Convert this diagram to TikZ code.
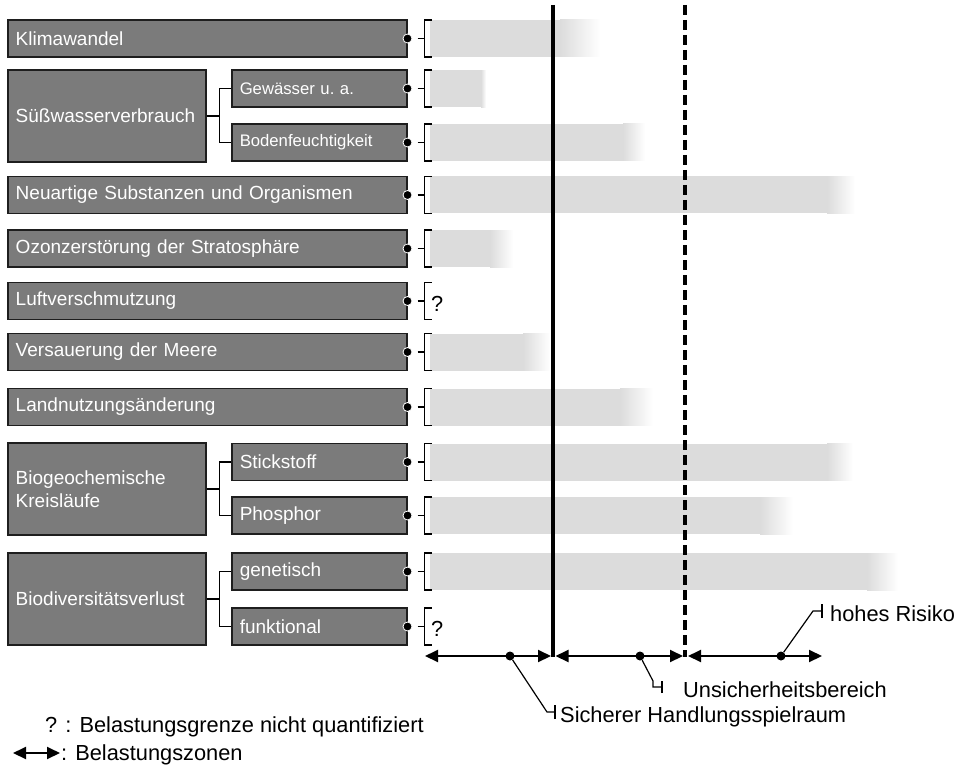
\documentclass[tikz,border=0pt]{standalone}
\usepackage{fontspec}
\setmainfont{Liberation Sans}
\usetikzlibrary{arrows.meta,calc}
\definecolor{boxgray}{RGB}{123,123,123}
\definecolor{boxline}{RGB}{30,30,30}
\definecolor{zonegray}{RGB}{220,220,220}
% grey zone bar: y, start of fade, end of fade
\newcommand{\zonebar}[3]{%
  \fill[zonegray] (430,#1-18.5) rectangle (#2,#1+18.5);
  \shade[left color=zonegray, right color=white] (#2,#1-18.5) rectangle (#3,#1+18.5);
}
% dot, tick and bracket behind a box
\newcommand{\zonebracket}[1]{%
  \draw[link] ($(#1.east)+(10,0)$) -- ++(7,0);
  \draw[link] ($(#1.east)+(24,-18.5)$) -- ++(-7,0) -- ++(0,37) -- ++(7,0);
  \filldraw[fill=black, draw=white, line width=0.8pt] (#1.east) circle (4.5);
}
\begin{document}
\begin{tikzpicture}[x=1pt, y=-1pt, >={Triangle[length=13pt,width=12pt]}]
\tikzstyle{box}=[draw=boxline, line width=1.5pt, fill=boxgray, text=white, anchor=west, inner xsep=8pt, inner ysep=0pt, minimum height=37pt, align=left, font=\fontsize{19}{23}\selectfont]
\tikzstyle{small}=[font=\fontsize{16.7}{20}\selectfont]
\tikzstyle{lbl}=[anchor=base west, inner sep=0pt, font=\fontsize{21.8}{26}\selectfont]
\tikzstyle{zdot}=[circle, fill=black, inner sep=0pt, minimum size=9pt]
\tikzstyle{zone}=[<->, line width=2pt]
\tikzstyle{link}=[line width=1.2pt]
\useasboundingbox (0,0) rectangle (965,767);

\zonebar{38.5}{560}{600}
\zonebar{89}{481}{486}
\zonebar{142.5}{623}{645}
\zonebar{195}{827}{855}
\zonebar{248.5}{490}{513}
\zonebar{352}{523}{550}
\zonebar{407}{620}{653}
\zonebar{462}{827}{853}
\zonebar{515.5}{760}{793}
\zonebar{571.5}{867}{898}

\node[box, text width=383pt] (klima) at (7,38.5) {Klimawandel};
\node[box, text width=182pt, minimum height=92pt] (suess) at (7,116) {\mbox{Süßwasserverbrauch}};
\node[box, small, text width=159pt] (gew) at (231,88.5) {Gewässer u.\ a.};
\node[box, small, text width=159pt] (boden) at (231,142.5) {Bodenfeuchtigkeit};
\node[box, text width=383pt] (neu) at (7,195) {Neuartige Substanzen und Organismen};
\node[box, text width=383pt] (ozon) at (7,248.5) {Ozonzerstörung der Stratosphäre};
\node[box, text width=383pt] (luft) at (7,301) {Luftverschmutzung};
\node[box, text width=383pt] (meer) at (7,352) {Versauerung der Meere};
\node[box, text width=383pt] (land) at (7,407) {Landnutzungsänderung};
\node[box, text width=182pt, minimum height=92pt] (biogeo) at (7,489) {Biogeochemische\\Kreisläufe};
\node[box, text width=159pt] (stick) at (231,462) {Stickstoff};
\node[box, text width=159pt] (phos) at (231,515.5) {Phosphor};
\node[box, text width=182pt, minimum height=92pt] (biodiv) at (7,599) {Biodiversitätsverlust};
\node[box, text width=159pt] (gen) at (231,571.5) {genetisch};
\node[box, text width=159pt] (funk) at (231,626.5) {funktional};

\draw[link] (suess.east) -- ++(13,0) |- (gew.west);
\draw[link] (suess.east) -- ++(13,0) |- (boden.west);
\draw[link] (biogeo.east) -- ++(13,0) |- (stick.west);
\draw[link] (biogeo.east) -- ++(13,0) |- (phos.west);
\draw[link] (biodiv.east) -- ++(13,0) |- (gen.west);
\draw[link] (biodiv.east) -- ++(13,0) |- (funk.west);

\zonebracket{klima}
\zonebracket{gew}
\zonebracket{boden}
\zonebracket{neu}
\zonebracket{ozon}
\zonebracket{luft}
\zonebracket{meer}
\zonebracket{land}
\zonebracket{stick}
\zonebracket{phos}
\zonebracket{gen}
\zonebracket{funk}
\node[lbl] (q1) at (431,311) {?};
\node[lbl] (q2) at (431,636.5) {?};

% boundaries
\coordinate (safeTop) at (553,5);
\coordinate (safeBot) at (553,657);
\coordinate (riskTop) at (685,5);
\coordinate (riskBot) at (685,657);
\draw[line width=3.5pt] (safeTop) -- (safeBot);
\draw[line width=3.5pt, dash pattern=on 10pt off 5pt] (riskTop) -- (riskBot);

% zones
\coordinate (z0) at (425,656);
\coordinate (z1) at (553,656);
\coordinate (z2) at (685,656);
\coordinate (z3) at (822,656);
\draw[zone, shorten >=2pt] (z0) -- (z1);
\draw[zone, shorten <=2.5pt, shorten >=2pt] (z1) -- (z2);
\draw[zone, shorten <=3pt] (z2) -- (z3);
\node[zdot] (d1) at (510,656) {};
\node[zdot] (d2) at (640,656) {};
\node[zdot] (d3) at (781,656) {};

\coordinate (t1) at (555,712);
\coordinate (t2) at (662,687);
\coordinate (t3) at (822,611);
\draw[link] (d1) -- (547,712) -- (t1);
\draw[link] ([yshift=-7pt]t1) -- ([yshift=7pt]t1);
\draw[link] (d2) -- (653,681) -- (653,687) -- (t2);
\draw[link] ([yshift=-6pt]t2) -- ([yshift=6pt]t2);
\draw[link] (d3) -- (813,611) -- (t3);
\draw[link] ([yshift=-7pt]t3) -- ([yshift=7pt]t3);
\node[lbl] (safe) at (560,722) {Sicherer Handlungsspielraum};
\node[lbl] (unsure) at (683,697) {Unsicherheitsbereich};
\node[lbl] (risk) at (830,621) {hohes Risiko};

% legend
\node[lbl] (legq) at (45,732) {? : Belastungsgrenze nicht quantifiziert};
\coordinate (la) at (13,753);
\coordinate (lb) at (60,753);
\draw[zone] (la) -- (lb);
\node[lbl] (legz) at (61,760) {: Belastungszonen};
\end{tikzpicture}
\end{document}
